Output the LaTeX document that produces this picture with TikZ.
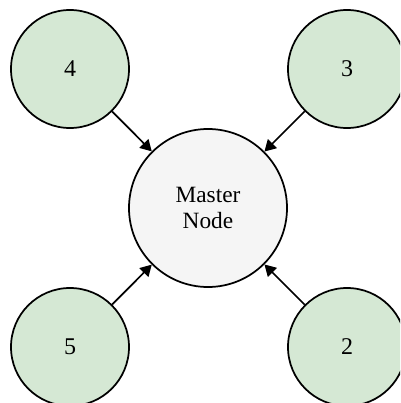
\documentclass[tikz,border=0pt]{standalone}
\usepackage{fontspec}
\setmainfont{Liberation Serif}
\usetikzlibrary{arrows}
\definecolor{workergreen}{HTML}{D5E8D4}
\definecolor{mastergrey}{HTML}{F5F5F5}
\newcommand{\WorkerNode}[2]{%
  node (#1) [circle, draw, line width=1.3pt, fill=workergreen, inner sep=0pt,
    minimum size=88.5pt, font=\fontsize{18}{20}\selectfont]
  {#2};
}

\begin{document}
\begin{tikzpicture}[x=0.75pt, y=-0.75pt]
    \useasboundingbox (0,0) rectangle (400,403);
    \clip (0,0) rectangle (400,403);

    \draw (208,208) node (master) [circle, draw, line width=1.3pt, fill=mastergrey,
      inner sep=0pt, minimum size=118.5pt, align=center,
      font=\fontsize{17.5}{19.5}\selectfont] {Master\\Node};

    \draw (70,69) \WorkerNode{worker four}{4}
    \draw (347,69) \WorkerNode{worker three}{3}
    \draw (70,347) \WorkerNode{worker five}{5}
    \draw (347,347) \WorkerNode{worker two}{2}

    \draw[->, > = triangle 60, line width=1.3pt] (worker four) -- (master);
    \draw[->, > = triangle 60, line width=1.3pt] (worker three) -- (master);
    \draw[->, > = triangle 60, line width=1.3pt] (worker five) -- (master);
    \draw[->, > = triangle 60, line width=1.3pt] (worker two) -- (master);
  \end{tikzpicture}
\end{document}
